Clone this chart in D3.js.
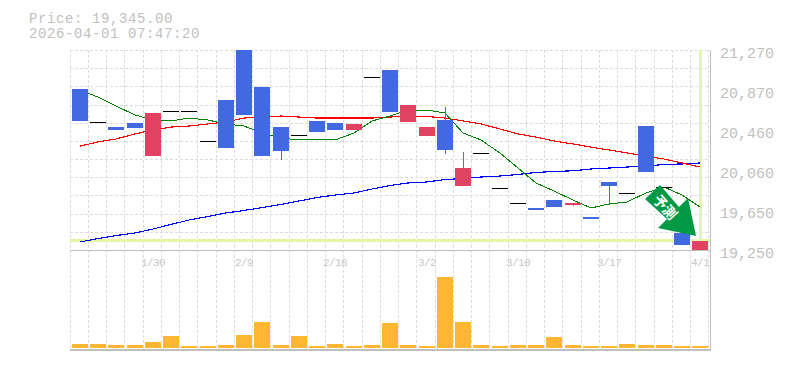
<!DOCTYPE html>
<html>
<head>
<meta charset="utf-8">
<script src="https://cdn.jsdelivr.net/npm/d3@7"></script>
<style>
html, body { margin: 0; padding: 0; background: #fff; }
svg { display: block; }
text { font-family: "Liberation Mono", monospace; }
</style>
</head>
<body>
<div id="chart"></div>
<script>
const width = 785, height = 370

// one entry per session, blue = close under open, red = close over open
const opens  = [20876,20543,20492,20533,20199,20654,20654,20351,20765,21270,20896,20492,20411,20553,20533,20462,20997,21068,20543,20401,20563,19896,20230,19876,19725,19674,19755,19705,19583,19937,19826,20502,19886,19422,19245]
const closes = [20553,20543,20462,20482,20634,20654,20654,20351,20280,20614,20199,20250,20411,20442,20462,20523,20997,20644,20715,20492,20260,20078,20230,19876,19725,19654,19684,19725,19563,19896,19826,20038,19886,19300,19345]
const highs  = [20876,20543,20492,20533,20634,20654,20654,20351,20765,21270,20896,20492,20411,20553,20533,20523,20997,21068,20715,20492,20694,20240,20230,19876,19725,19674,19755,19725,19583,19937,19826,20502,19886,19422,19345]
const lows   = [20553,20543,20462,20482,20199,20654,20654,20351,20280,20614,20199,20159,20411,20442,20462,20462,20997,20644,20543,20401,20220,19896,20230,19876,19725,19654,19684,19694,19563,19705,19826,20038,19886,19300,19245]
const volumes = [4,4,3,3,6,12,2,2,3,13,26,3,12,2,4,2,3,25,3,2,71,26,3,2,3,3,11,3,2,2,4,3,3,2,2]

const maShort = [20866,20795,20704,20614,20563,20553,20583,20563,20523,20502,20432,20381,20361,20371,20361,20432,20553,20603,20664,20664,20634,20432,20361,20230,20078,19927,19846,19755,19674,19715,19735,19826,19886,19806,19684]
const maMid   = [20300,20341,20371,20422,20462,20492,20502,20523,20543,20583,20593,20603,20593,20583,20583,20583,20583,20593,20603,20598,20583,20553,20523,20472,20422,20391,20351,20321,20290,20260,20230,20199,20169,20129,20088]
const maLong  = [19331,19366,19396,19422,19462,19508,19553,19588,19624,19649,19679,19710,19745,19780,19805,19826,19866,19901,19927,19937,19962,19972,19987,19997,20013,20033,20043,20050,20068,20078,20088,20098,20114,20119,20129]

const priceTicks = [21270,20870,20460,20060,19650,19250]
const dateTickIdx = [4,9,14,19,24,29,34]
const dateTickLabels = ['1/30','2/9','2/18','3/2','3/10','3/17','4/1']

const lastPrice = 19345
const priceTitle = 'Price: 19,345.00'
const timeTitle = '2026-04-01 07:47:20'
const arrowLabel = '予測'

const grey = '#bfbfbf'
const upCol = '#e24262', downCol = '#4169e1', volCol = '#ffb733'

const svg = d3.select('#chart').append('svg')
  .attr('width', width)
  .attr('height', height)

const days = d3.range(opens.length)

const x = d3.scaleBand().domain(days).range([70, 708.75])
const y = d3.scaleLinear().domain([19250, 21270]).range([250, 50])
const yVol = d3.scaleLinear().domain([0, 98]).range([348, 250])

const barLeft = i => Math.ceil(x(i) - 0.5) + 2
const mid = i => barLeft(i) + 8

/* grid */
const grid = svg.append('g')
  .attr('stroke', '#dcdcdc')
  .attr('stroke-dasharray', '3,2')
  .attr('shape-rendering', 'crispEdges')

grid.selectAll('.gx')
  .data(d3.range(36))
  .enter().append('line')
  .attr('x1', i => Math.floor(70 + i * x.bandwidth()) + 0.5)
  .attr('x2', i => Math.floor(70 + i * x.bandwidth()) + 0.5)
  .attr('y1', 50)
  .attr('y2', 350)

grid.selectAll('.gy')
  .data(d3.range(11))
  .enter().append('line')
  .attr('x1', 70)
  .attr('x2', 708)
  .attr('y1', i => Math.round(50 + i * 200 / 11) + 0.5)
  .attr('y2', i => Math.round(50 + i * 200 / 11) + 0.5)

/* last price cross */
svg.append('line')
  .attr('x1', 70).attr('x2', 710)
  .attr('y1', y(lastPrice)).attr('y2', y(lastPrice))
  .attr('stroke', '#e4f6a8').attr('stroke-width', 3)
  .attr('shape-rendering', 'crispEdges')
svg.append('line')
  .attr('x1', mid(34)).attr('x2', mid(34))
  .attr('y1', 50).attr('y2', 250)
  .attr('stroke', '#e4f6a8').attr('stroke-width', 3)
  .attr('shape-rendering', 'crispEdges')

/* frame */
const frame = svg.append('g')
  .attr('stroke', grey)
  .attr('shape-rendering', 'crispEdges')
frame.append('line').attr('x1', 70).attr('x2', 711).attr('y1', 250.5).attr('y2', 250.5)
frame.append('line').attr('x1', 70).attr('x2', 711).attr('y1', 349.5).attr('y2', 349.5).attr('stroke-width', 2)
frame.append('line').attr('x1', 710.5).attr('x2', 710.5).attr('y1', 50).attr('y2', 350)

/* moving averages */
const maLine = d3.line().x((d, i) => mid(i)).y(d => y(d))
const maSeries = [[maLong, '#0000ff'], [maMid, '#ff0000'], [maShort, '#008000']]
svg.selectAll('.ma')
  .data(maSeries)
  .enter().append('path')
  .attr('d', d => maLine(d[0]))
  .attr('fill', 'none')
  .attr('stroke', d => d[1])
  .attr('stroke-width', d => d[1] === '#008000' ? 1 : 1.15)
  .attr('shape-rendering', 'crispEdges')

/* volume */
svg.selectAll('.vol')
  .data(volumes)
  .enter().append('rect')
  .attr('x', (d, i) => barLeft(i))
  .attr('y', d => yVol(d))
  .attr('width', 16)
  .attr('height', d => 348 - yVol(d))
  .attr('fill', volCol)
  .attr('shape-rendering', 'crispEdges')

/* candles */
const candles = svg.append('g').attr('shape-rendering', 'crispEdges')
days.forEach(i => {
  const o = opens[i], c = closes[i]
  const col = o === c ? '#000' : (c > o ? upCol : downCol)
  if (highs[i] > Math.max(o, c) || lows[i] < Math.min(o, c)) {
    candles.append('line')
      .attr('x1', mid(i) + 0.5).attr('x2', mid(i) + 0.5)
      .attr('y1', y(highs[i])).attr('y2', y(lows[i]))
      .attr('stroke', col)
  }
  if (o === c) {
    candles.append('rect')
      .attr('x', barLeft(i)).attr('y', Math.round(y(o)))
      .attr('width', 16).attr('height', 1)
      .attr('fill', col)
  } else {
    candles.append('rect')
      .attr('x', barLeft(i)).attr('y', y(Math.max(o, c)))
      .attr('width', 16).attr('height', Math.abs(y(o) - y(c)))
      .attr('fill', col)
  }
})

/* arrow */
svg.append('path')
  .attr('d', d3.line()([[645,199],[660,185],[679,207],[688,198],[696,236],[658,228],[667,219]]) + 'Z')
  .attr('fill', '#009944')
svg.append('text')
  .attr('transform', 'translate(652,192) rotate(48)')
  .attr('x', 6).attr('y', 5.5)
  .attr('fill', '#fff')
  .attr('font-weight', 'bold')
  .style('font-family', '"Noto Sans CJK JP"')
  .style('font-size', '14px')
  .text(arrowLabel)

/* text */
svg.append('text').attr('x', 29).attr('y', 23)
  .attr('fill', grey).style('font-size', '14px').style('letter-spacing', '0.6px').text(priceTitle)
svg.append('text').attr('x', 29).attr('y', 38)
  .attr('fill', grey).style('font-size', '14px').style('letter-spacing', '0.6px').text(timeTitle)

svg.selectAll('.py')
  .data(priceTicks)
  .enter().append('text')
  .attr('x', 720)
  .attr('y', (d, i) => 58 + i * 40)
  .attr('fill', grey)
  .style('font-size', '15px')
  .text(d3.format(','))

svg.selectAll('.dx')
  .data(dateTickIdx)
  .enter().append('text')
  .attr('x', i => mid(i))
  .attr('y', 266)
  .attr('text-anchor', 'middle')
  .attr('fill', '#c8c8c8')
  .style('font-size', '11px')
  .style('letter-spacing', '-0.6px')
  .text((d, i) => dateTickLabels[i])
</script>
</body>
</html>
